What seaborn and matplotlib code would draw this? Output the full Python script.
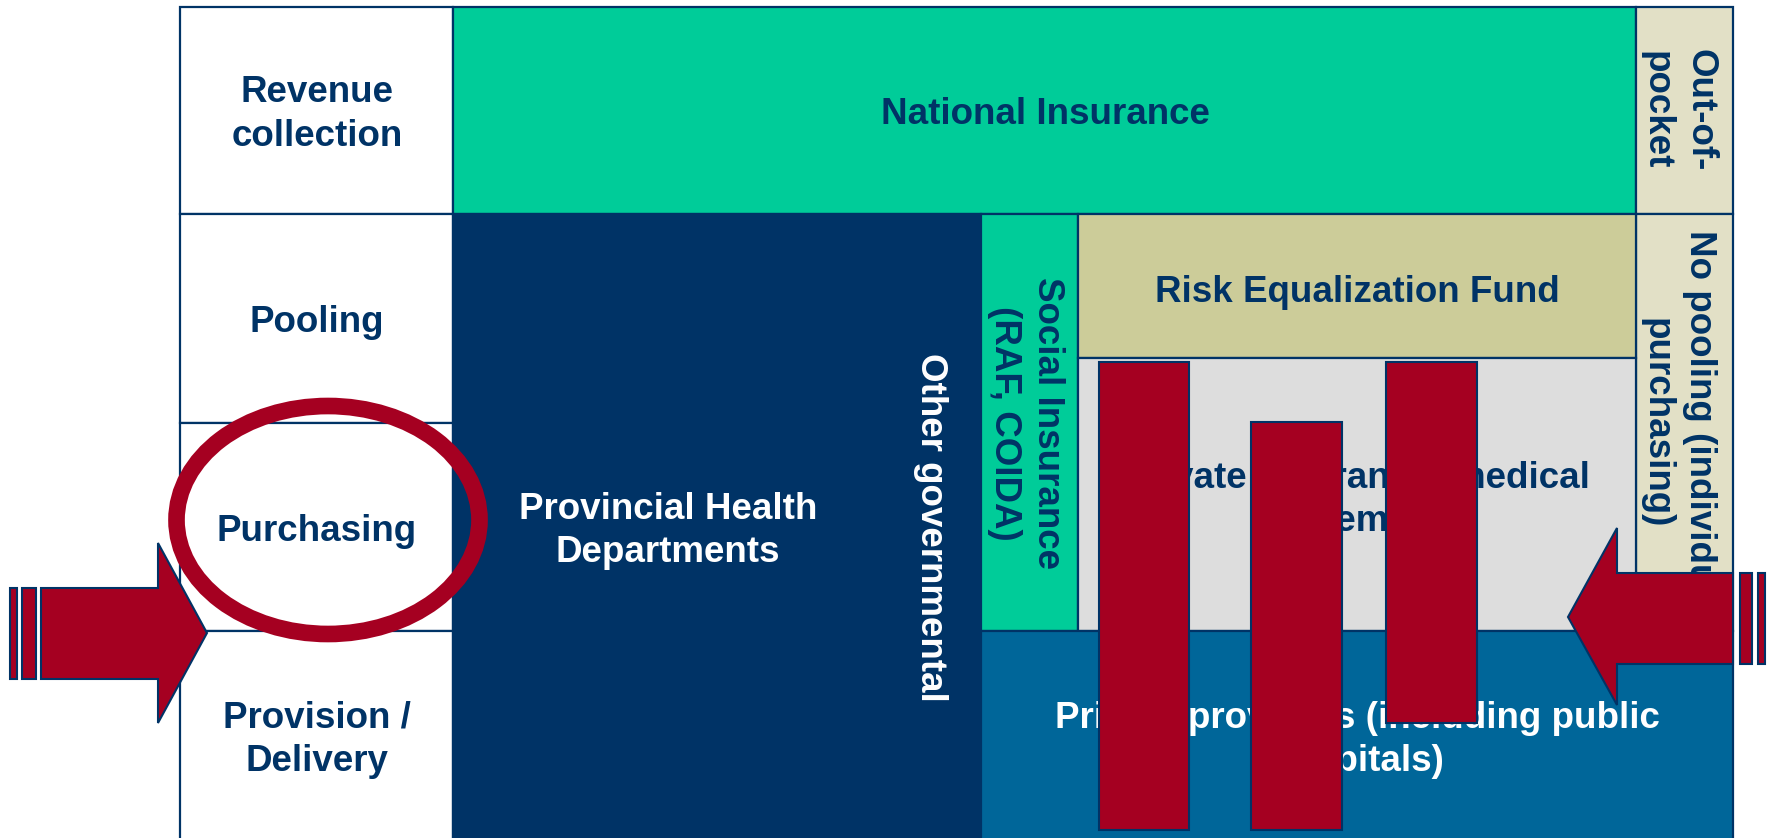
import matplotlib
matplotlib.use("Agg")
import matplotlib.pyplot as plt
from matplotlib.patches import Polygon, Ellipse
import seaborn as sns

# diagram geometry, in reference pixels (x to the right, y downward)
stage_labels = ["Revenue\ncollection", "Pooling", "Purchasing", "Provision /\nDelivery"]
stage_tops = [7, 214, 423, 631]
stage_bottoms = [214, 423, 631, 845]

block_labels = ["National Insurance", "Out-of-\npocket", "No pooling (individual\npurchasing)",
                "Provincial Health\nDepartments", "Social Insurance\n(RAF, COIDA)",
                "Risk Equalization Fund", "Private insurance (medical\nschemes)",
                "Private providers (including public\nhospitals)"]
block_left = [453, 1636, 1636, 453, 981, 1078, 1078, 981]
block_right = [1636, 1733, 1733, 981, 1078, 1636, 1636, 1733]
block_top = [7, 7, 214, 214, 214, 214, 358, 631]
block_bottom = [214, 214, 631, 845, 631, 358, 631, 845]
block_colors = ["#00CC99", "#E2E0C6", "#E2E0C6", "#003366", "#00CC99",
                "#CCCC99", "#DDDDDD", "#006699"]
block_text_colors = ["#003366", "#003366", "#003366", "white", "#003366",
                     "#003366", "#003366", "white"]
block_rotation = [0, -90, -90, 0, -90, 0, 0, 0]
block_text_x = [1045, 1678, 1678, 668, 1026, 1357, 1357, 1357]
block_text_y = [115, 110, 423, 531, 423, 292, 500, 740]

side_label = "Other governmental"

# red overlay bars
red_left = [1099, 1251, 1386]
red_right = [1189, 1342, 1477]
red_top = [362, 422, 362]
red_bottom = [830, 830, 723]

NAVY = "#003366"
RED = "#A50021"
W, H = 1767, 838

sns.set_theme(style="white")
plt.rcParams["font.family"] = ["Liberation Sans", "DejaVu Sans"]

fig = plt.figure(figsize=(W / 100, H / 100), dpi=100)
ax = fig.add_axes([0, 0, 1, 1])
ax.set_xlim(0, W)
ax.set_ylim(H, 0)
ax.axis("off")

fs = 26.5
ls = 1.3

# left column: stages
for lab, t, b in zip(stage_labels, stage_tops, stage_bottoms):
    ax.bar(180, b - t, width=453 - 180, bottom=t, align="edge",
           color="white", edgecolor=NAVY, linewidth=1.6, zorder=1)
    ax.text(317, min((t + b) / 2, 736) + 4, lab, ha="center", va="center",
            color=NAVY, fontsize=fs, fontweight="bold", linespacing=ls, zorder=3)

# coloured blocks
for i, lab in enumerate(block_labels):
    ax.bar(block_left[i], block_bottom[i] - block_top[i],
           width=block_right[i] - block_left[i], bottom=block_top[i],
           align="edge", color=block_colors[i], edgecolor=NAVY,
           linewidth=1.6, zorder=1)
    ax.text(block_text_x[i], block_text_y[i], lab, ha="center", va="center",
            color=block_text_colors[i], fontsize=fs, fontweight="bold",
            rotation=block_rotation[i], linespacing=ls, zorder=3)

ax.text(930, 527, side_label, ha="center", va="center", color="white",
        fontsize=fs, fontweight="bold", rotation=-90, zorder=3)

# red overlay bars
ax.bar(red_left, [b - t for t, b in zip(red_top, red_bottom)],
       width=[r - l for l, r in zip(red_left, red_right)], bottom=red_top,
       align="edge", color=RED, edgecolor=NAVY, linewidth=1.5, zorder=4)

# circle round "Purchasing"
ax.add_patch(Ellipse((328, 520), 303, 228, fill=False, edgecolor=RED,
                     linewidth=12, zorder=5))

# left arrow
left_arrow = [(41, 588), (158, 588), (158, 543), (207, 633), (158, 723),
              (158, 679), (41, 679)]
ax.add_patch(Polygon(left_arrow, closed=True, facecolor=RED, edgecolor=NAVY,
                     linewidth=1.5, zorder=6))
for x0, x1 in [(10, 17), (22, 36)]:
    ax.bar(x0, 679 - 588, width=x1 - x0, bottom=588, align="edge", color=RED,
           edgecolor=NAVY, linewidth=1.5, zorder=6)

# right arrow
right_arrow = [(1733, 573), (1617, 573), (1617, 528), (1568, 617), (1617, 705),
               (1617, 664), (1733, 664)]
ax.add_patch(Polygon(right_arrow, closed=True, facecolor=RED, edgecolor=NAVY,
                     linewidth=1.5, zorder=6))
for x0, x1 in [(1740, 1752), (1758, 1765)]:
    ax.bar(x0, 664 - 573, width=x1 - x0, bottom=573, align="edge", color=RED,
           edgecolor=NAVY, linewidth=1.5, zorder=6)

plt.savefig("out.png", dpi=100)
